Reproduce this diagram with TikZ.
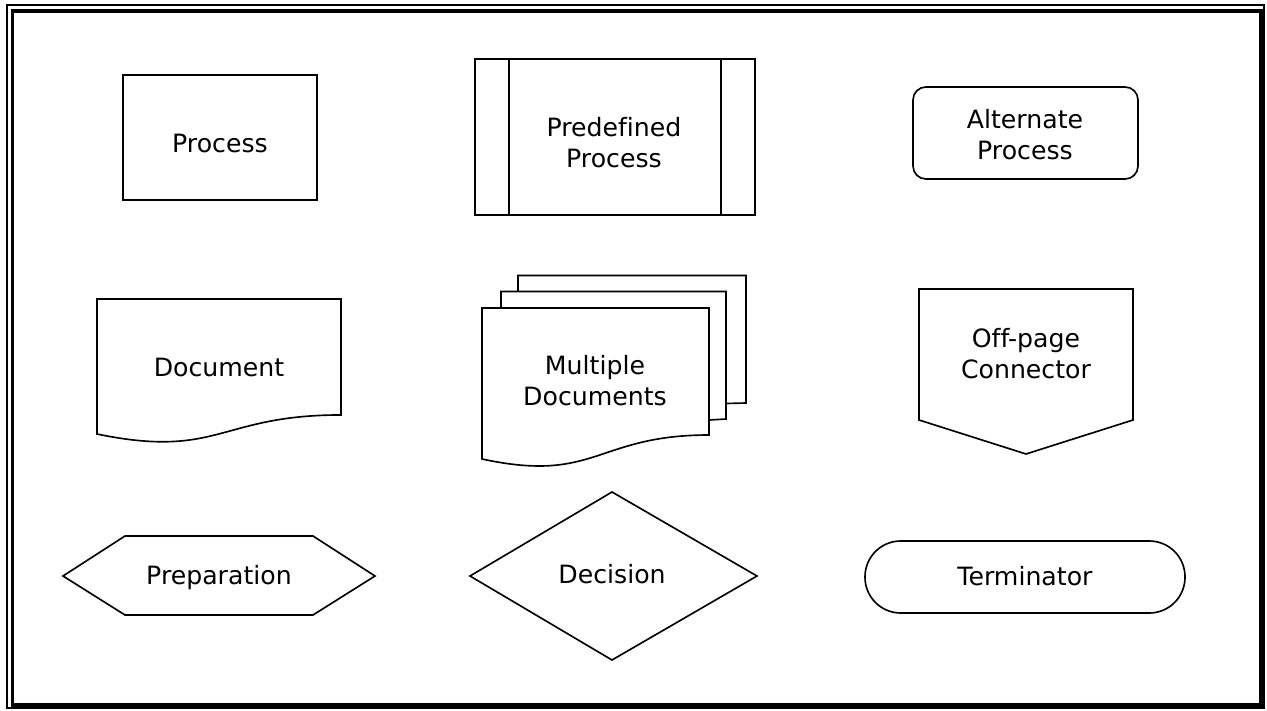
\documentclass[tikz,border=0pt]{standalone}
\usepackage{fontspec}
\setmainfont[Ligatures=NoCommon]{DejaVu Sans}
\usepackage{tikz}
\tikzset{
	outline/.style={draw,line width=1.4pt,fill=white,line join=miter},
	txt/.style={align=center,inner sep=0pt,font=\fontsize{21.5}{26.5}\selectfont}
}
\newcommand{\docShape}[4]{
	% #1: x
	% #2: y (top)
	% #3: width
	% #4: height
	\draw[outline] (#1,#2) -- (#1+#3,#2) -- (#1+#3,#2+0.802*#4)
		.. controls (#1+#3/2,#2+0.802*#4) and (#1+#3/2,#2+1.1075*#4) .. (#1,#2+0.934*#4) -- cycle;
}

\begin{document}
\begin{tikzpicture}[x=0.03cm,y=-0.03cm]
\useasboundingbox (0,0) rectangle (1267,711);

% frame
\draw[line width=1.7pt] (7,5) rectangle (1264,708);
\draw[line width=2.6pt] (12.5,11) rectangle (1261,705);

% process
\draw[outline] (123,75) rectangle (317,200);
\node[txt] (process) at (220,143) {Process};

% predefined process
\draw[outline] (475,59) rectangle (755,215);
\draw[line width=1.4pt] (509,59) to (509,215);
\draw[line width=1.4pt] (721,59) to (721,215);
\node[txt] (predef) at (614,143) {Predefined\\Process};

% alternate process
\draw[outline,rounded corners=11pt] (913,87) rectangle (1138,179);
\node[txt] (altproc) at (1025,135) {Alternate\\Process};

% document
\docShape{97}{299}{244}{144.6}
\node[txt] (document) at (219,367) {Document};

% multiple documents
\draw[outline] (726,403.5) -- (746,403) -- (746,275.5) -- (518,275.5) -- (518,291.5);
\draw[outline] (709,420) -- (726,419) -- (726,291.5) -- (501,291.5) -- (501,308);
\draw[outline] (482,308) -- (709,308) -- (709,435)
	.. controls (596,435) and (596,483.7) .. (482,459) -- cycle;
\node[txt] (multidoc) at (595,381) {Multiple\\Documents};

% off-page connector
\draw[outline] (919,289) -- (1133,289) -- (1133,420) -- (1026,454) -- (919,420) -- cycle;
\node[txt] (offpage) at (1026,354) {Off-page\\Connector};

% preparation
\draw[outline] (63,576) -- (125,536) -- (313,536) -- (375,576) -- (313,615) -- (125,615) -- cycle;
\node[txt] (prep) at (219,578) {Preparation};

% decision
\draw[outline] (612,492) -- (757,576) -- (612,660) -- (470,576) -- cycle;
\node[txt] (decision) at (612,574) {Decision};

% terminator
\draw[outline,rounded corners=30.5pt] (865,541) rectangle (1185,613);
\node[txt] (terminator) at (1025,576) {Terminator};

\end{tikzpicture}
\end{document}
